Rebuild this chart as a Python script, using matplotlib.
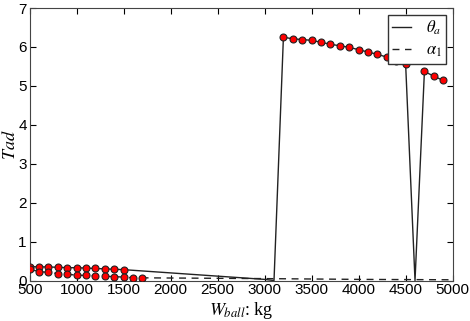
"""
Tad en fonction de W_ball : courbes theta_a et alpha_1 avec points calculés.
"""
import numpy as np
import matplotlib
matplotlib.use("Agg")
import matplotlib.pyplot as plt

plt.rcParams["font.family"] = ["Liberation Sans", "DejaVu Sans"]
plt.rcParams["mathtext.fontset"] = "stix"
plt.rcParams["xtick.direction"] = "in"
plt.rcParams["ytick.direction"] = "in"
plt.rcParams["xtick.top"] = True
plt.rcParams["ytick.right"] = True

# Courbe theta_a (trait plein)
w_theta = [500, 600, 700, 800, 900, 1000, 1100, 1200, 1300, 1400, 1500,
           3000, 3100, 3200, 3300, 3400, 3500, 3600, 3700, 3800, 3900,
           4000, 4100, 4200, 4300, 4400, 4500, 4600, 4700, 4800, 4900]
theta_a = [0.36, 0.35, 0.35, 0.34, 0.33, 0.33, 0.32, 0.31, 0.30, 0.29, 0.28,
           0.03, 0.0, 6.25, 6.21, 6.19, 6.17, 6.12, 6.07, 6.03, 5.99,
           5.93, 5.87, 5.81, 5.74, 5.64, 5.57, 0.0, 5.37, 5.25, 5.14]

# Courbe alpha_1 (tirets)
w_alpha = [500, 600, 700, 800, 900, 1000, 1100, 1200, 1300, 1400, 1500,
           1600, 1700, 3000, 4000, 5000]
alpha_1 = [0.29, 0.23, 0.21, 0.18, 0.16, 0.14, 0.13, 0.12, 0.11, 0.10, 0.09,
           0.07, 0.07, 0.05, 0.03, 0.02]

# Points calculés (marqueurs rouges)
w_pts_theta = [500, 600, 700, 800, 900, 1000, 1100, 1200, 1300, 1400, 1500,
               3200, 3300, 3400, 3500, 3600, 3700, 3800, 3900, 4000, 4100,
               4200, 4300, 4400, 4500, 4700, 4800, 4900]
pts_theta = [0.36, 0.35, 0.35, 0.34, 0.33, 0.33, 0.32, 0.31, 0.30, 0.29, 0.28,
             6.25, 6.21, 6.19, 6.17, 6.12, 6.07, 6.03, 5.99, 5.93, 5.87,
             5.81, 5.74, 5.64, 5.57, 5.37, 5.25, 5.14]
w_pts_alpha = [500, 600, 700, 800, 900, 1000, 1100, 1200, 1300, 1400, 1500,
               1600, 1700]
pts_alpha = [0.29, 0.23, 0.21, 0.18, 0.16, 0.14, 0.13, 0.12, 0.11, 0.10, 0.09,
             0.07, 0.07]

fig = plt.figure(figsize=(4.7, 3.21), dpi=100)
ax = fig.add_axes([0.063, 0.126, 0.9, 0.849])

ax.plot(w_theta, theta_a, color="#222222", lw=1.0, label=r"$\theta_a$")
ax.plot(w_alpha, alpha_1, color="#222222", lw=1.0, ls=(0, (5, 4)),
        label=r"$\alpha_1$")
ax.plot(w_pts_theta, pts_theta, "o", color="red", mec="#222222", mew=0.8,
        ms=5, zorder=3)
ax.plot(w_pts_alpha, pts_alpha, "o", color="red", mec="#222222", mew=0.8,
        ms=5, zorder=3)

ax.set_xlim(500, 5000)
ax.set_ylim(0, 7)
ax.set_xticks(np.arange(500, 5001, 500))
ax.set_yticks(np.arange(0, 8, 1))
ax.tick_params(labelsize=11, length=4, pad=2)
for s in ax.spines.values():
    s.set_color("#444444")

ax.set_xlabel(r"$W_{ball}$: kg", family="Liberation Serif", fontsize=13,
              labelpad=2)
ax.set_ylabel(r"$Tad$", fontsize=13)
ax.yaxis.set_label_coords(-0.025, 0.5)

leg = ax.legend(loc="upper right", fontsize=12, fancybox=False,
                framealpha=1, edgecolor="#333333", handlelength=1.15,
                handletextpad=0.9, borderpad=0.25, labelspacing=0.35,
                borderaxespad=0.4)
leg.get_frame().set_linewidth(1.0)

fig.savefig("out.png", dpi=100)
